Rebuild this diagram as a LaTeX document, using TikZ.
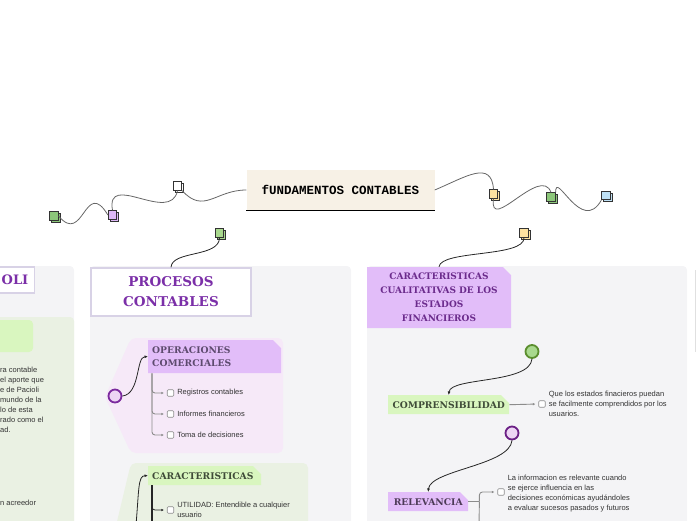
\documentclass[tikz,border=0pt]{standalone}
\usepackage{fontspec}
\setmainfont{Liberation Sans}
\newfontfamily\hdfont{DejaVu Serif}
\newfontfamily\typefont{Liberation Mono}
\usepackage{xcolor}
\usetikzlibrary{positioning,arrows.meta,shapes.misc,shadows}
\definecolor{panelgray}{HTML}{F4F4F6}
\definecolor{beige}{HTML}{F7F1E6}
\definecolor{lilac}{HTML}{E2BDF9}
\definecolor{lilacbg}{HTML}{F6E9F8}
\definecolor{mint}{HTML}{D9F6BF}
\definecolor{mintbg}{HTML}{EAF1E3}
\definecolor{titlepurple}{HTML}{7B2FA8}
\definecolor{darkpurple}{HTML}{6B2B8C}
\definecolor{oppurple}{HTML}{5D4A6E}
\definecolor{relpurple}{HTML}{4D3A57}
\definecolor{darkgreen}{HTML}{3F4B38}
\definecolor{framelav}{HTML}{D8D2E6}
\definecolor{sqgreen}{HTML}{8CC77A}
\definecolor{sqlilac}{HTML}{DDB8F6}
\definecolor{sqyellow}{HTML}{FCE1A0}
\definecolor{sqblue}{HTML}{BEE0F4}
\definecolor{sqmint}{HTML}{A9D98E}
\definecolor{ringgreen}{HTML}{5B8E2E}
\definecolor{ringpurple}{HTML}{7B2A9E}
\definecolor{ringdark}{HTML}{6B1F85}
\definecolor{circlilac}{HTML}{EDD5F4}

\begin{document}
\begin{tikzpicture}[x=1pt,y=-1pt,font=\fontsize{7.5}{10}\selectfont]
  \tikzstyle{sq}=[draw=black!80,line width=0.7pt,minimum size=8.5pt,inner sep=0pt,copy shadow={shadow xshift=1.6pt,shadow yshift=-1.6pt}]
  \tikzstyle{cv}=[draw=black!60,line width=0.8pt]
  \tikzstyle{ar}=[draw=black!85,line width=0.8pt,-{Latex[length=3.5pt,width=3pt]}]
  \tikzstyle{gl}=[draw=black!45,line width=0.9pt]
  \tikzstyle{tip}=[-{Latex[length=2.5pt,width=2.5pt]},shorten >=3pt]
  \tikzstyle{ttl}=[draw=framelav,line width=1.5pt,fill=white,text=titlepurple,align=center,font=\hdfont\bfseries\fontsize{13.5}{20}\selectfont]
  \tikzstyle{hd}=[chamfered rectangle,chamfered rectangle corners=north east,chamfered rectangle xsep=4pt,chamfered rectangle ysep=4pt,inner xsep=0pt,inner ysep=2pt,font=\hdfont\bfseries\fontsize{9.2}{13}\selectfont]
  \tikzstyle{circ}=[circle,minimum size=13pt,inner sep=0pt,line width=1.8pt]
  \tikzstyle{cb}=[draw=black!45,fill=white,minimum size=6.5pt,inner sep=0pt,rounded corners=1pt,line width=0.6pt]
  \tikzstyle{it}=[inner sep=1pt,align=left,text=black!80]
  \useasboundingbox (0,0) rectangle (696,520);

  % panels
  \fill[panelgray,rounded corners=4] (-10,266) rectangle (74,530);
  \fill[panelgray,rounded corners=4] (90,266) rectangle (351,530);
  \fill[panelgray,rounded corners=4] (367,266) rectangle (687,530);
  \draw[black!12,line width=0.8pt] (695.5,270) -- (695.5,352);
  \fill[mintbg,rounded corners=4] (-10,317) rectangle (74,530);
  \fill[mint,rounded corners=4] (-10,320) rectangle (33,352);
  \fill[lilacbg,rounded corners=5] (131,338) -- (283,338) -- (283,453) -- (131,453) -- (105,397) -- cycle;
  \fill[mintbg,rounded corners=5] (131,463) -- (308,463) -- (308,530) -- (115,530) -- cycle;

  % main topic and markers
  \node[fill=beige,minimum width=188pt,minimum height=40pt,font=\typefont\bfseries\fontsize{12.5}{14}\selectfont] (fc) at (340.5,190) {fUNDAMENTOS CONTABLES};
  \draw[line width=1.4pt] (fc.south west) -- (fc.south east);
  \node[sq,fill=white] (w1) at (177.5,186) {};
  \node[sq,fill=sqlilac] (p1) at (112.5,215) {};
  \node[sq,fill=sqgreen] (g1) at (54,216) {};
  \node[sq,fill=sqyellow] (y1) at (493.5,194) {};
  \node[sq,fill=sqgreen] (g2) at (551,197) {};
  \node[sq,fill=sqblue] (b1) at (606,195.5) {};
  \node[sq,fill=sqmint] (g3) at (219.5,233) {};
  \node[sq,fill=sqyellow] (y3) at (524,233) {};
  \draw[cv] (fc.west) .. controls +(-31,0) and +(22,24) .. (w1.south east);
  \draw[cv] (w1.south) .. controls +(-7,34) and +(-7,-40) .. (p1.north);
  \draw[cv] (p1.west) .. controls +(-23,-38) and +(25,30) .. (g1.east);
  \draw[cv] (fc.east) .. controls +(31,-13) and +(-2,-30) .. (y1.north);
  \draw[cv] (y1.south) .. controls +(-5,36) and +(-10,-28) .. (g2.north);
  \draw[cv] (g2.north east) .. controls +(0,-23) and +(-20,35) .. (b1.south west);

  % left panel
  \node[ttl,font=\hdfont\bfseries\fontsize{13}{16}\selectfont,anchor=east,text width=70pt,align=right,inner xsep=6pt,minimum height=26pt] (pa) at (35,280) {OLI};
  \node[it,anchor=north west,inner sep=0pt] (pt1) at (0,367) {ra contable\\el aporte que\\e de Pacioli\\mundo de la\\lo de esta\\rado como el\\ad.};
  \node[it,anchor=west,inner sep=0pt] (pt2) at (0,503) {n acreedor};

  % procesos contables
  \node[ttl,minimum width=160pt,minimum height=48pt] (pc) at (171,292) {PROCESOS\\CONTABLES};
  \draw[cv,black!85] (g3.south) .. controls +(0,20) and +(1,-17) .. (pc.north);
  \node[hd,fill=lilac,text=oppurple,anchor=north west,text width=125pt,minimum height=33pt,align=left] (oc) at (148,340) {OPERACIONES\\COMERCIALES};
  \node[circ,fill=circlilac,draw=ringpurple] (o1) at (115,396) {};
  \draw[ar] (o1.east) .. controls +(18,-2) and +(-12,0) .. (oc.west);
  \foreach \i/\t in {1/Registros contables,2/Informes financieros,3/Toma de decisiones}{
    \node[cb] (cb\i) at (170.5,372+21*\i) {};
    \node[it,right=2pt of cb\i] (r\i) {\t};
    \draw[gl,tip,rounded corners=3pt] ([xshift=4pt]oc.south west) |- (cb\i.west);
  }
  \node[hd,fill=mint,text=darkgreen,anchor=north west,text width=105pt,align=left,minimum height=18pt] (ch) at (148,466) {CARACTERISTICAS};
  \coordinate (chend) at (152,525);
  \coordinate (cs) at (136,525);
  \draw[line width=1.6pt,black!85] ([xshift=4pt]ch.south west) -- (chend);
  \draw[ar] (cs) .. controls +(3,-35) and +(-10,0) .. (ch.west);
  \node[cb] (cb4) at (170.5,510) {};
  \node[it,right=2pt of cb4] (r4) {UTILIDAD: Entendible a cualquier\\usuario};
  \draw[black!85,line width=0.8pt,tip,rounded corners=3pt] ([xshift=4pt]ch.south west) |- (cb4.west);

  % caracteristicas cualitativas
  \node[hd,fill=lilac,text=darkpurple,minimum width=144pt,minimum height=61pt,align=center,font=\hdfont\bfseries\fontsize{9}{14}\selectfont] (cq) at (439,297.5) {CARACTERISTICAS\\CUALITATIVAS DE LOS\\ESTADOS\\FINANCIEROS};
  \draw[cv,black!85] (y3.south) .. controls +(1,20) and +(2,-17) .. (cq.north);
  \node[circ,fill=sqmint,draw=ringgreen] (k1) at (532,351.5) {};
  \node[hd,fill=mint,text=darkgreen,anchor=north west,minimum width=121pt,minimum height=19pt] (cp) at (388,395) {COMPRENSIBILIDAD};
  \draw[ar] (k1.south) .. controls +(-2,25) and +(2,-18) .. (cp.north);
  \node[cb] (cb5) at (542,404) {};
  \draw[gl,tip] (cp.east) -- (cb5.west);
  \node[it,right=2pt of cb5] (q1) {Que los estados finacieros puedan\\se facilmente comprendidos por los\\usuarios.};
  \node[circ,fill=circlilac,draw=ringdark] (k2) at (512,433) {};
  \node[hd,fill=lilac,text=relpurple,anchor=north west,minimum width=80pt,minimum height=19pt] (rv) at (388,492) {RELEVANCIA};
  \draw[ar] (k2.south) .. controls +(-2,25) and +(2,-22) .. (rv.north);
  \draw[gl] (rv.east) -- ++(11,0) coordinate (rb);
  \coordinate (rbend) at (479,525);
  \draw[gl] (rb) -- (rbend);
  \node[cb] (cb6) at (501,492) {};
  \draw[gl,tip,rounded corners=3pt] (rb) |- (cb6.west);
  \node[it,right=2pt of cb6,yshift=-2pt] (q2) {La informacion es relevante cuando\\se ejerce influencia en las\\decisiones económicas ayudándoles\\a evaluar sucesos pasados y futuros};
\end{tikzpicture}
\end{document}
